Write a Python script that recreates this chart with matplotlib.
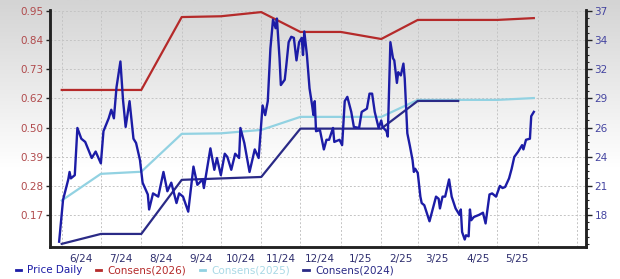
import numpy as np
import pandas as pd
import matplotlib
matplotlib.use("Agg")
import matplotlib.pyplot as plt
import matplotlib.dates as mdates
from matplotlib.lines import Line2D
from matplotlib.ticker import AutoMinorLocator, NullFormatter

# Daily share price (right axis)
price_dates = [
    "2024-05-30", "2024-06-02", "2024-06-06", "2024-06-07", "2024-06-08", "2024-06-11",
    "2024-06-13", "2024-06-16", "2024-06-19", "2024-06-24", "2024-06-27", "2024-07-01",
    "2024-07-03", "2024-07-07", "2024-07-09", "2024-07-11", "2024-07-13", "2024-07-16",
    "2024-07-18", "2024-07-20", "2024-07-23", "2024-07-26", "2024-07-28", "2024-07-31",
    "2024-08-02", "2024-08-06", "2024-08-07", "2024-08-10", "2024-08-14", "2024-08-18",
    "2024-08-21", "2024-08-24", "2024-08-28", "2024-08-30", "2024-09-02", "2024-09-06",
    "2024-09-10", "2024-09-13", "2024-09-17", "2024-09-18", "2024-09-23", "2024-09-26",
    "2024-09-28", "2024-10-01", "2024-10-04", "2024-10-06", "2024-10-09", "2024-10-12",
    "2024-10-15", "2024-10-16", "2024-10-19", "2024-10-23", "2024-10-27", "2024-10-30",
    "2024-11-02", "2024-11-04", "2024-11-06", "2024-11-08", "2024-11-10", "2024-11-12",
    "2024-11-13", "2024-11-15", "2024-11-16", "2024-11-19", "2024-11-20", "2024-11-22",
    "2024-11-24", "2024-11-26", "2024-11-28", "2024-11-30", "2024-12-02", "2024-12-03",
    "2024-12-04", "2024-12-06", "2024-12-08", "2024-12-10", "2024-12-11", "2024-12-12",
    "2024-12-13", "2024-12-16", "2024-12-19", "2024-12-21", "2024-12-23", "2024-12-26",
    "2024-12-27", "2024-12-31", "2025-01-02", "2025-01-04", "2025-01-06", "2025-01-09",
    "2025-01-11", "2025-01-15", "2025-01-17", "2025-01-21", "2025-01-23", "2025-01-25",
    "2025-01-27", "2025-01-30", "2025-02-01", "2025-02-02", "2025-02-05", "2025-02-06",
    "2025-02-08", "2025-02-10", "2025-02-11", "2025-02-13", "2025-02-14", "2025-02-16",
    "2025-02-18", "2025-02-19", "2025-02-21", "2025-02-23", "2025-02-25", "2025-02-26",
    "2025-02-27", "2025-03-01", "2025-03-03", "2025-03-04", "2025-03-06", "2025-03-10",
    "2025-03-13", "2025-03-15", "2025-03-17", "2025-03-18", "2025-03-20", "2025-03-22",
    "2025-03-25", "2025-03-27", "2025-03-30", "2025-04-02", "2025-04-03", "2025-04-04",
    "2025-04-06", "2025-04-07", "2025-04-09", "2025-04-10", "2025-04-11", "2025-04-13",
    "2025-04-17", "2025-04-20", "2025-04-22", "2025-04-25", "2025-04-27", "2025-04-30",
    "2025-05-03", "2025-05-05", "2025-05-07", "2025-05-10", "2025-05-12", "2025-05-14",
    "2025-05-17", "2025-05-20", "2025-05-21", "2025-05-23", "2025-05-26", "2025-05-27",
    "2025-05-29",
]
price_values = [
    15.5, 19.4, 21.3, 22.0, 21.4, 21.7,
    26.1, 25.1, 24.8, 23.3, 23.9, 22.8,
    25.8, 27.0, 27.8, 27.0, 29.9, 32.3,
    28.7, 26.2, 28.6, 25.1, 24.7, 23.1,
    21.0, 19.9, 18.5, 20.0, 19.7, 22.0,
    20.2, 21.0, 19.1, 20.0, 19.7, 18.3,
    22.5, 20.8, 21.3, 20.5, 24.2, 22.2,
    23.3, 21.7, 23.7, 23.4, 22.2, 23.7,
    23.3, 26.1, 24.7, 22.0, 24.1, 23.3,
    28.2, 27.3, 28.6, 33.5, 36.2, 35.4,
    36.3, 32.6, 30.1, 30.6, 31.7, 34.1,
    34.6, 34.5, 32.4, 34.1, 34.5, 32.9,
    35.1, 32.9, 29.8, 28.2, 27.3, 28.6,
    25.8, 25.9, 24.1, 25.0, 25.0, 26.1,
    24.8, 25.0, 24.5, 28.6, 29.0, 27.6,
    26.2, 26.1, 27.6, 27.9, 29.3, 29.3,
    27.6, 26.1, 26.8, 26.2, 25.8, 25.3,
    34.1, 32.6, 32.4, 30.3, 31.3, 31.0,
    32.1, 30.7, 25.6, 24.4, 23.1, 22.0,
    22.3, 21.9, 19.7, 19.1, 18.9, 17.4,
    18.8, 19.7, 19.5, 18.6, 19.7, 19.7,
    21.3, 19.7, 18.6, 18.0, 18.5, 16.4,
    15.7, 16.1, 16.0, 18.5, 17.5, 17.8,
    18.0, 18.2, 17.2, 19.9, 20.0, 19.7,
    20.7, 20.5, 20.6, 21.4, 22.3, 23.4,
    23.9, 24.5, 24.1, 25.0, 25.1, 27.2,
    27.6,
]

# Consensus EPS estimates (left axis)
cons2026_dates = ["2024-06-01", "2024-08-01", "2024-09-01", "2024-10-01", "2024-11-01", "2024-12-01",
                  "2025-01-01", "2025-02-01", "2025-03-01", "2025-05-01", "2025-05-29"]
cons2026_values = [0.648, 0.648, 0.927, 0.930, 0.946, 0.870, 0.870, 0.843, 0.916, 0.916, 0.923]

cons2025_dates = ["2024-06-01", "2024-07-01", "2024-08-01", "2024-09-01", "2024-10-01", "2024-11-01",
                  "2024-12-01", "2025-02-01", "2025-03-01", "2025-05-01", "2025-05-29"]
cons2025_values = [0.225, 0.327, 0.335, 0.480, 0.482, 0.495, 0.545, 0.545, 0.610, 0.610, 0.617]

cons2024_dates = ["2024-06-01", "2024-07-01", "2024-08-01", "2024-09-01", "2024-11-01",
                  "2024-12-01", "2025-02-01", "2025-03-01", "2025-04-01"]
cons2024_values = [0.059, 0.097, 0.097, 0.304, 0.315, 0.500, 0.500, 0.606, 0.606]

month_labels = ["6/24", "7/24", "8/24", "9/24", "10/24", "11/24",
                "12/24", "1/25", "2/25", "3/25", "4/25", "5/25"]
left_tick_labels = ["0.17", "0.28", "0.39", "0.50", "0.62", "0.73", "0.84", "0.95"]
right_tick_labels = ["18", "21", "24", "26", "29", "32", "34", "37"]
legend_labels = ["Price Daily", "Consens(2026)", "Consens(2025)", "Consens(2024)"]

c_price = "#1c1ca6"
c_2026 = "#b52a2a"
c_2025 = "#92d2e2"
c_2024 = "#2a2a86"

plt.rcParams["font.family"] = "DejaVu Sans"

fig = plt.figure(figsize=(6.2, 2.79), dpi=100)

# grey-to-white background gradient
bg = fig.add_axes([0, 0, 1, 1], zorder=-10)
grad = np.linspace(0, 1, 256)
grad = np.clip(grad / 0.6, 0, 1)[:, None]
bg.imshow(grad, aspect="auto", cmap=matplotlib.colors.LinearSegmentedColormap.from_list(
    "g", ["#d4d4d4", "#ffffff"]), extent=[0, 1, 0, 1], origin="upper")
bg.axis("off")

ax = fig.add_axes([50 / 620, 1 - 247 / 279, 536 / 620, 237 / 279])
ax.set_facecolor("none")

lo, hi = 0.047, 0.954
ax.set_ylim(lo, hi)
ax.set_xlim(pd.Timestamp("2024-05-23"), pd.Timestamp("2025-07-08"))

left_ticks = np.linspace(0.17, 0.95, len(left_tick_labels))
ax.set_yticks(left_ticks, labels=left_tick_labels)

ax.plot(pd.to_datetime(cons2025_dates), cons2025_values, color=c_2025, lw=1.6, zorder=3)
ax.plot(pd.to_datetime(cons2026_dates), cons2026_values, color=c_2026, lw=1.6, zorder=3)
ax.plot(pd.to_datetime(cons2024_dates), cons2024_values, color=c_2024, lw=1.6, zorder=4)

# right axis for price, aligned with left ticks
a = (37 - 18) / (0.95 - 0.17)
b = 37 - a * 0.95
ax2 = ax.twinx()
ax2.set_ylim(a * lo + b, a * hi + b)
ax2.set_yticks(a * left_ticks + b, labels=right_tick_labels)
ax2.yaxis.set_minor_locator(AutoMinorLocator(4))
ax2.plot(pd.to_datetime(price_dates), price_values, color=c_price, lw=1.7, zorder=5)

# months: grid at month start, label mid-month
ax.xaxis.set_major_locator(mdates.MonthLocator())
ax.xaxis.set_major_formatter(NullFormatter())
mid_months = pd.date_range("2024-06-01", periods=len(month_labels), freq="MS") + pd.Timedelta(days=15)
ax.set_xticks(mid_months, labels=month_labels, minor=True)
ax.tick_params(axis="x", which="both", length=0, labelsize=7.5, labelcolor="#2e2e6e", pad=5)
ax.tick_params(axis="y", length=3, width=1, color="#222222", labelsize=7.5, labelcolor="#b04a4c", pad=2)
ax2.tick_params(axis="y", which="major", length=4, width=1, color="#222222", labelsize=7.5,
                labelcolor="#4444a0", pad=2)
ax2.tick_params(axis="y", which="minor", length=2.5, width=0.8, color="#222222")

ax.grid(True, which="major", color="#c4c4c4", lw=0.7, ls=(0, (2, 2)))

for axx in (ax, ax2):
    axx.spines["top"].set_visible(False)
    for s in ("left", "right", "bottom"):
        axx.spines[s].set_linewidth(1.8)
        axx.spines[s].set_color("#222222")

handles = [Line2D([], [], color=c, lw=2) for c in (c_price, c_2026, c_2025, c_2024)]
fig.legend(handles, legend_labels, loc="lower left", bbox_to_anchor=(0.01, -0.02), ncol=4,
           frameon=False, handlelength=0.5, handletextpad=0.6, columnspacing=1.3, fontsize=7.5,
           labelcolor=[c_price, c_2026, "#a9d9e6", c_2024])

fig.savefig("out.png", dpi=100)
